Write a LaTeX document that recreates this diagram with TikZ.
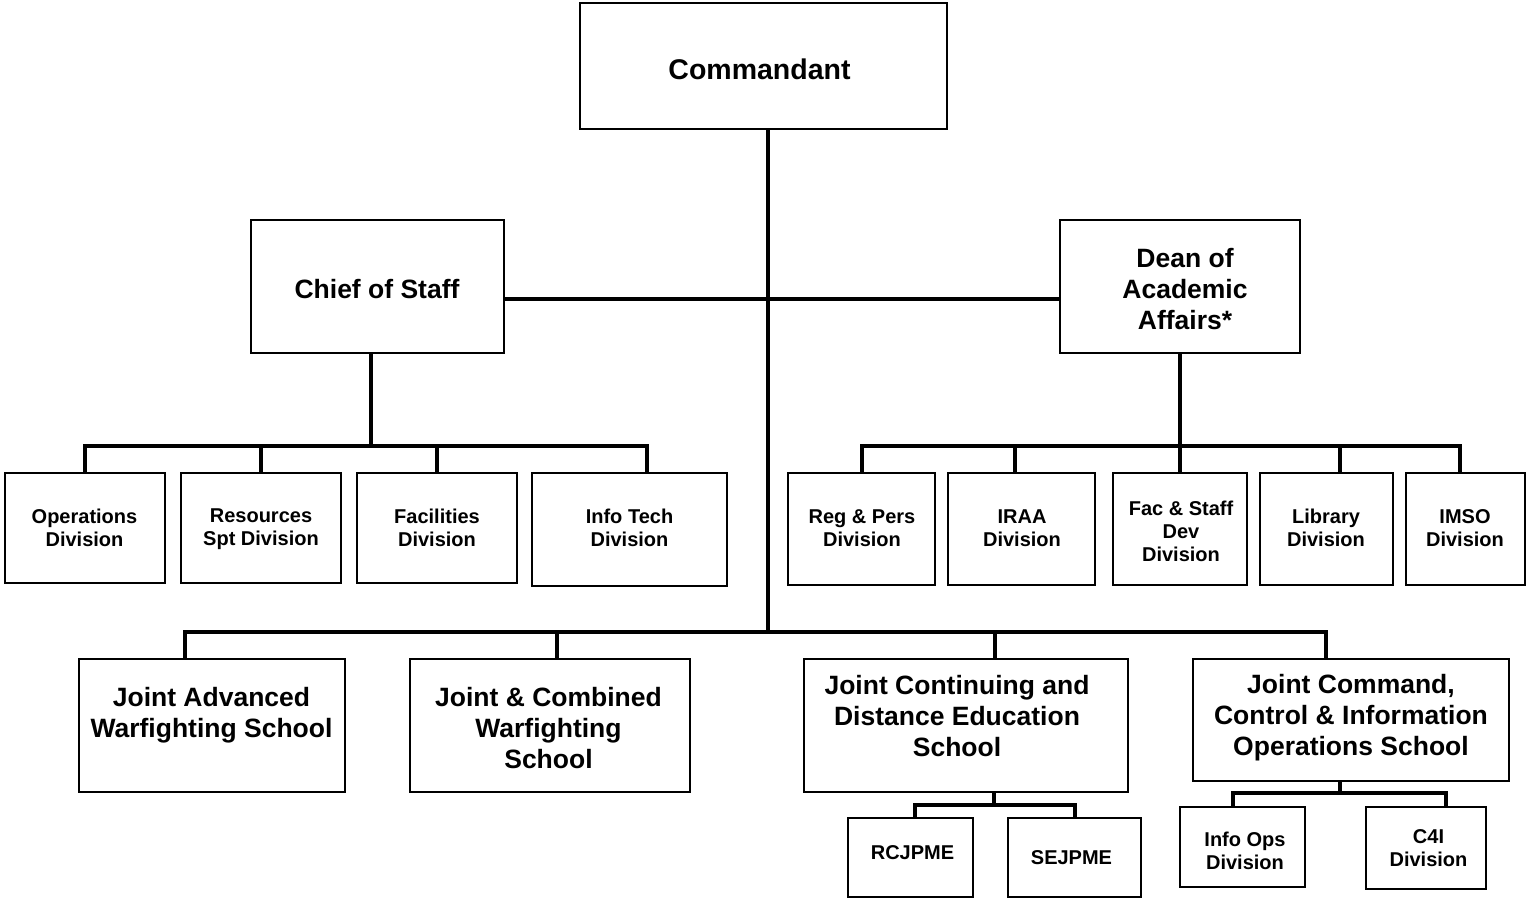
\documentclass[tikz,border=0pt]{standalone}
\usepackage{fontspec}
\setmainfont{Liberation Sans}
\begin{document}
\begin{tikzpicture}[x=1pt,y=-1pt,
  box/.style={draw, line width=1.6pt, fill=white, inner sep=0pt, outer sep=0pt},
  conn/.style={line width=4pt, line join=miter},
  sm/.style={font=\fontsize{20}{23}\selectfont\bfseries, align=center, inner sep=0pt, text depth=0pt},
  lg/.style={font=\fontsize{26.5}{31}\selectfont\bfseries, align=center, inner sep=0pt, text depth=0pt},
  xl/.style={font=\fontsize{28.5}{33}\selectfont\bfseries, align=center, inner sep=0pt, text depth=0pt}]
\useasboundingbox (0,0) rectangle (1526,899);
% boxes
\node[box, minimum width=367pt, minimum height=126pt] (cmd) at (763.5,66) {};
\node[box, minimum width=253pt, minimum height=133pt] (cos) at (377.5,286.5) {};
\node[box, minimum width=240pt, minimum height=133pt] (dean) at (1180,286.5) {};
\node[box, minimum width=160pt, minimum height=110pt] (ops) at (85,528) {};
\node[box, minimum width=160pt, minimum height=110pt] (res) at (261,528) {};
\node[box, minimum width=160pt, minimum height=110pt] (fac) at (437,528) {};
\node[box, minimum width=195pt, minimum height=113pt] (it) at (629.5,529.5) {};
\node[box, minimum width=147pt, minimum height=112pt] (reg) at (861.5,529) {};
\node[box, minimum width=147pt, minimum height=112pt] (iraa) at (1021.5,529) {};
\node[box, minimum width=134pt, minimum height=112pt] (fsd) at (1180,529) {};
\node[box, minimum width=133pt, minimum height=112pt] (lib) at (1326.5,529) {};
\node[box, minimum width=119pt, minimum height=112pt] (imso) at (1465.5,529) {};
\node[box, minimum width=266pt, minimum height=133pt] (jaws) at (212,725.5) {};
\node[box, minimum width=280pt, minimum height=133pt] (jcws) at (550,725.5) {};
\node[box, minimum width=324pt, minimum height=133pt] (jcdes) at (966,725.5) {};
\node[box, minimum width=316pt, minimum height=122pt] (jc2) at (1351,720) {};
\node[box, minimum width=125pt, minimum height=79pt] (rcj) at (910.5,857.5) {};
\node[box, minimum width=133pt, minimum height=79pt] (sej) at (1074.5,857.5) {};
\node[box, minimum width=125pt, minimum height=80pt] (iops) at (1242.5,847) {};
\node[box, minimum width=120pt, minimum height=82pt] (c4i) at (1426,848) {};
% texts
\node[xl] (tcmd) at (759.5,69) {Commandant};
\node[lg] (tcos) at (377,289) {Chief of Staff};
\node[lg] (tdean) at (1185,289) {Dean of\\Academic\\Affairs*};
\node[sm] (tops) at (84.5,527.5) {Operations\\Division};
\node[sm] (tres) at (261,527.5) {Resources\\Spt Division};
\node[sm] (tfac) at (437,527.5) {Facilities\\Division};
\node[sm] (tit) at (629.5,527.5) {Info Tech\\Division};
\node[sm] (treg) at (862,528.5) {Reg \& Pers\\Division};
\node[sm] (tiraa) at (1022,528.5) {IRAA\\Division};
\node[sm] (tfsd) at (1181,531) {Fac \& Staff\\Dev\\Division};
\node[sm] (tlib) at (1326,527.5) {Library\\Division};
\node[sm] (timso) at (1465,528.5) {IMSO\\Division};
\node[lg] (tjaws) at (211.5,712.5) {Joint Advanced\\Warfighting School};
\node[lg] (tjcws) at (548.5,728) {Joint \& Combined\\Warfighting\\School};
\node[lg] (tjcdes) at (957,716) {Joint Continuing and\\Distance Education\\School};
\node[lg] (tjc2) at (1351,715) {Joint Command,\\Control \& Information\\Operations School};
\node[sm] (trcj) at (912.5,853) {RCJPME};
\node[sm] (tsej) at (1071.5,857.5) {SEJPME};
\node[sm] (tiops) at (1245,850.5) {Info Ops\\Division};
\node[sm] (tc4i) at (1428.5,848.5) {C4I\\Division};
% connectors
\coordinate (bus) at (768,632);
\coordinate (hy) at (768,299);
\draw[conn] (cmd.south -| bus) -- (bus);
\draw[conn] (cos.east |- hy) -- (dean.west |- hy);
% chief of staff group
\coordinate (csb) at (371,446);
\coordinate (itd) at (647,446);
\draw[conn] (cos.south -| csb) -- (csb);
\draw[conn] (ops.north) |- (itd) -- (itd |- it.north);
\draw[conn] (res.north) -- (res.north |- csb);
\draw[conn] (fac.north) -- (fac.north |- csb);
% dean group
\coordinate (dsb) at (1180,446);
\coordinate (imd) at (1460,446);
\draw[conn] (dean.south) -- (dsb);
\draw[conn] (reg.north) |- (imd) -- (imd |- imso.north);
\draw[conn] ([xshift=-6.5pt]iraa.north) -- ([xshift=-6.5pt]iraa.north |- dsb);
\draw[conn] (fsd.north) -- (fsd.north |- dsb);
\draw[conn] ([xshift=13.5pt]lib.north) -- ([xshift=13.5pt]lib.north |- dsb);
% schools
\draw[conn] ([xshift=-27pt]jaws.north) |- ([xshift=-25pt]jc2.north |- bus) -- ([xshift=-25pt]jc2.north);
\draw[conn] ([xshift=7pt]jcws.north) -- ([xshift=7pt]jcws.north |- bus);
\draw[conn] ([xshift=29pt]jcdes.north) -- ([xshift=29pt]jcdes.north |- bus);
% JCDES sub
\coordinate (jb) at (994,805);
\draw[conn] (jcdes.south -| jb) -- (jb);
\draw[conn] ([xshift=4.5pt]rcj.north) |- (sej.north |- jb) -- (sej.north);
% JC2IOS sub
\coordinate (kb) at (1340,793);
\draw[conn] (jc2.south -| kb) -- (kb);
\draw[conn] ([xshift=-9.5pt]iops.north) |- ([xshift=20pt]c4i.north |- kb) -- ([xshift=20pt]c4i.north);
\end{tikzpicture}
\end{document}
